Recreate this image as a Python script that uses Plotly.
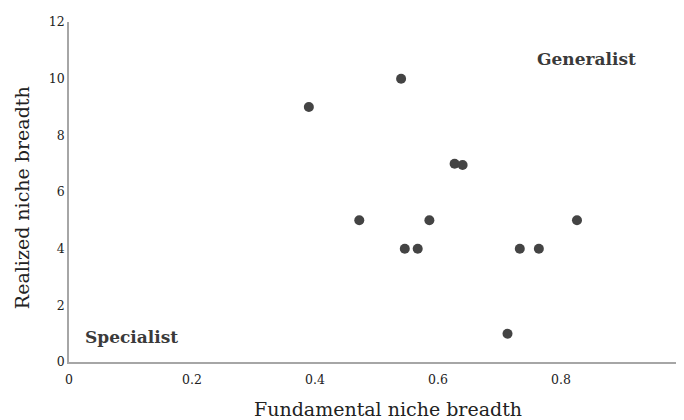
import plotly.graph_objects as go

fundamental = [0.39, 0.54, 0.627, 0.64, 0.472, 0.586, 0.546, 0.567, 0.733, 0.764, 0.826, 0.713]
realized = [9, 10, 7, 6.95, 5, 5, 4, 4, 4, 4, 5, 1]

x_ticks = [0, 0.2, 0.4, 0.6, 0.8, 1]
x_tick_labels = ["0", "0.2", "0.4", "0.6", "0.8", "1"]
y_ticks = [0, 2, 4, 6, 8, 10, 12]

fig = go.Figure()
fig.add_trace(go.Scatter(
    x=fundamental, y=realized, mode="markers",
    marker=dict(size=10, color="#444444"),
    showlegend=False,
    cliponaxis=False,
))

fig.add_annotation(x=0.842, y=10.7, text="<b>Generalist</b>", showarrow=False,
                   font=dict(family="DejaVu Serif", size=17, color="#3a3a3a"))
fig.add_annotation(x=0.101, y=0.9, text="<b>Specialist</b>", showarrow=False,
                   font=dict(family="DejaVu Serif", size=17, color="#3a3a3a"))

# axis titles
fig.add_annotation(xref="paper", yref="paper", x=0.519, y=-0.137, yanchor="middle",
                   text="Fundamental niche breadth", showarrow=False,
                   font=dict(family="DejaVu Serif", size=19, color="#222222"))
fig.add_annotation(xref="paper", yref="paper", x=-0.0764, y=0.482, xanchor="center",
                   text="Realized niche breadth", showarrow=False, textangle=-90,
                   font=dict(family="DejaVu Serif", size=19, color="#222222"))

fig.update_layout(
    width=676, height=412,
    margin=dict(l=61, r=0, t=14, b=58, autoexpand=False),
    plot_bgcolor="white", paper_bgcolor="white",
    font=dict(family="DejaVu Serif", color="#222222"),
    xaxis=dict(
        range=[0, 1], tickvals=x_ticks, ticktext=x_tick_labels, automargin=False,
        showgrid=False, zeroline=False, showline=True, linecolor="#a6a6a6", linewidth=1.5,
        ticks="", ticklabelstandoff=5, tickfont=dict(size=12.5, family="DejaVu Serif"),
    ),
    yaxis=dict(
        range=[0, 12], tickvals=y_ticks, automargin=False,
        showgrid=False, zeroline=False, showline=True, linecolor="#a6a6a6", linewidth=1.5,
        ticks="", tickfont=dict(size=12.5, family="DejaVu Serif"),
    ),
)

fig.write_html("out.html")
